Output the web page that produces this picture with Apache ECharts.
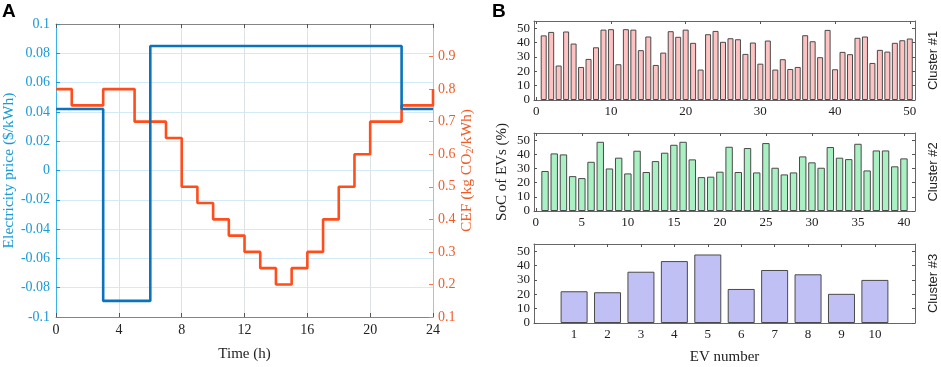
<!DOCTYPE html>
<html>
<head>
<meta charset="utf-8">
<script src="https://cdn.jsdelivr.net/npm/echarts@6/dist/echarts.min.js"></script>
<style>
  html, body { margin: 0; background: #fff; }
  #main { width: 941px; height: 367px; }
</style>
</head>
<body>
<div id="main"></div>
<script>
// panel A: stairs, each value holds until the next breakpoint
const priceHours = [0, 3, 6, 22, 24]
const priceValues = [0.042, -0.089, 0.085, 0.042, 0.042]
const cefHours = [0, 1, 3, 5, 7, 8, 9, 10, 11, 12, 13, 14, 15, 16, 17, 18, 19, 20, 22, 24]
const cefValues = [0.8, 0.75, 0.8, 0.7, 0.65, 0.5, 0.45, 0.4, 0.35, 0.3, 0.25, 0.2, 0.25, 0.3, 0.4, 0.5, 0.6, 0.7, 0.75, 0.8]

// panel B: SoC of each EV per cluster (%)
const cluster1 = [45, 47.4, 24, 47.7, 39.3, 23, 28.6, 36.7, 49, 49.3,
  24.9, 49.3, 49, 34.7, 44.2, 24.4, 33, 47.9, 44, 49,
  39.8, 21.2, 45.8, 48.1, 40.5, 43, 42.3, 32.1, 40, 25.3,
  41.4, 21.2, 28.4, 21.6, 23, 45.1, 40.9, 29.8, 48.8, 21.4,
  33.5, 31.9, 43.3, 44.2, 25.8, 34.9, 33.7, 39.8, 41.6, 42.8]
const cluster2 = [28.2, 40.6, 39.9, 24.6, 23.2, 34.7, 48.8, 30, 37.6, 26.5,
  42.5, 27.5, 35.2, 41.1, 46.7, 48.8, 36.4, 23.9, 24.2, 27.7,
  45.3, 27.5, 44.4, 27.2, 47.9, 30.5, 25.8, 27.2, 38.5, 34.3,
  30.5, 45.1, 37.6, 36.6, 47.4, 28.6, 42.7, 42.7, 31.5, 37.1]
const cluster3 = [22.1, 21.4, 35.7, 43.1, 47.7, 23.7, 36.9, 33.9, 20.3, 30]

const ticks1 = [0, 10, 20, 30, 40, 50]
const ticks2 = [0, 5, 10, 15, 20, 25, 30, 35, 40]
const ticks3 = [1, 2, 3, 4, 5, 6, 7, 8, 9, 10]
const socTicks = [0, 10, 20, 30, 40, 50]

const serif = 'Liberation Serif'
const sans = 'Liberation Sans'
const blue = '#0a73bb'
const orange = '#ff4d1c'

const chart = echarts.init(document.getElementById('main'))

const panels = [
  { data: cluster1, ticks: ticks1, min: -0.3, max: 50.7, top: 21, height: 79, color: '#ffc2c2', barWidth: 6, name: 'Cluster #1' },
  { data: cluster2, ticks: ticks2, min: -0.2, max: 41.2, top: 133, height: 78, color: '#a9f0c3', barWidth: 7.4, name: 'Cluster #2' },
  { data: cluster3, ticks: ticks3, min: -0.2, max: 11.2, top: 244, height: 79, color: '#c0c0f5', barWidth: 27, name: 'Cluster #3' }
]

const grids = [{ left: 56, top: 24, width: 377, height: 301 }]
const xAxes = [
  {
    type: 'value', gridIndex: 0, min: 0, max: 24, interval: 4,
    name: 'Time (h)', nameLocation: 'middle', nameGap: 30,
    nameTextStyle: { fontFamily: serif, fontSize: 15, color: '#222' },
    axisLine: { onZero: false, lineStyle: { color: '#858585' } },
    axisTick: { inside: true, length: 4, lineStyle: { color: '#555' } },
    axisLabel: { fontFamily: serif, fontSize: 14, color: '#222', margin: 6 },
    splitLine: { show: true, lineStyle: { color: '#dde2e7' } }
  },
  {
    type: 'value', gridIndex: 0, position: 'top', min: 0, max: 24, interval: 4,
    axisLine: { onZero: false, lineStyle: { color: '#858585' } },
    axisTick: { inside: true, length: 4, lineStyle: { color: '#555' } },
    axisLabel: { show: false }, splitLine: { show: false }
  }
]
const yAxes = [
  {
    type: 'value', gridIndex: 0, min: -0.1, max: 0.1, interval: 0.02,
    name: 'Electricity price ($/kWh)', nameLocation: 'middle', nameGap: 39,
    nameTextStyle: { fontFamily: serif, fontSize: 15.5, color: '#1a9ad6' },
    axisLine: { show: true, onZero: false, lineStyle: { color: '#3cb2e6' } },
    axisTick: { show: true, inside: true, length: 4, lineStyle: { color: '#1a9ad6' } },
    axisLabel: { fontFamily: serif, fontSize: 14, color: '#1a9ad6', margin: 6,
      formatter: v => String(+v.toFixed(2)) },
    splitLine: { show: true, lineStyle: { color: '#d3ebf6' } }
  },
  {
    type: 'value', gridIndex: 0, position: 'right', min: 0.1, max: 1.0, interval: 0.1,
    name: 'CEF (kg CO{s|2}/kWh)', nameLocation: 'middle', nameGap: 25, nameRotate: 90,
    nameTextStyle: { fontFamily: serif, fontSize: 15.5, color: '#f25a26',
      rich: { s: { fontFamily: serif, fontSize: 10, color: '#f25a26', verticalAlign: 'bottom', padding: [6, 0, 0, 0] } } },
    axisLine: { show: true, onZero: false, lineStyle: { color: '#ffa68a' } },
    axisTick: { show: true, inside: true, length: 4, lineStyle: { color: '#f7774a' } },
    axisLabel: { fontFamily: serif, fontSize: 14, color: '#f25a26', margin: 5, showMaxLabel: false,
      formatter: v => String(+v.toFixed(1)) },
    splitLine: { show: false }
  }
]
const series = [
  {
    type: 'line', xAxisIndex: 0, yAxisIndex: 1, step: 'end', symbol: 'none',
    data: cefHours.map((h, i) => [h, cefValues[i]]),
    lineStyle: { color: orange, width: 2.6 }, z: 3
  },
  {
    type: 'line', xAxisIndex: 0, yAxisIndex: 0, step: 'end', symbol: 'none',
    data: priceHours.map((h, i) => [h, priceValues[i]]),
    lineStyle: { color: blue, width: 2.6 }, z: 4
  }
]

panels.forEach((p, k) => {
  const gi = k + 1
  grids.push({ left: 534, top: p.top, width: 385, height: p.height })
  const tickStyle = { inside: true, length: 3, lineStyle: { color: '#555' } }
  xAxes.push({
    type: 'value', gridIndex: gi, min: p.min, max: p.max,
    name: k === 2 ? 'EV number' : '', nameLocation: 'middle', nameGap: 27,
    nameTextStyle: { fontFamily: serif, fontSize: 15, color: '#222' },
    axisLine: { onZero: false, lineStyle: { color: '#666' } },
    axisTick: { ...tickStyle, customValues: p.ticks },
    axisLabel: { fontFamily: serif, fontSize: 13, color: '#222', margin: 5, customValues: p.ticks },
    splitLine: { show: false }
  })
  xAxes.push({
    type: 'value', gridIndex: gi, position: 'top', min: p.min, max: p.max,
    axisLine: { onZero: false, lineStyle: { color: '#666' } },
    axisTick: { ...tickStyle, customValues: p.ticks },
    axisLabel: { show: false }, splitLine: { show: false }
  })
  yAxes.push({
    type: 'value', gridIndex: gi, min: 0, max: 55,
    name: k === 1 ? 'SoC of EVs (%)' : '', nameLocation: 'middle', nameGap: 24,
    nameTextStyle: { fontFamily: serif, fontSize: 15, color: '#222' },
    axisLine: { show: true, onZero: false, lineStyle: { color: '#666' } },
    axisTick: { show: true, ...tickStyle, customValues: socTicks },
    axisLabel: { fontFamily: serif, fontSize: 13, color: '#222', margin: 4, customValues: socTicks },
    splitLine: { show: false }
  })
  yAxes.push({
    type: 'value', gridIndex: gi, position: 'right', min: 0, max: 55,
    name: p.name, nameLocation: 'middle', nameGap: 12, nameRotate: 90,
    nameTextStyle: { fontFamily: sans, fontSize: 13, color: '#222' },
    axisLine: { show: true, onZero: false, lineStyle: { color: '#666' } },
    axisTick: { show: true, ...tickStyle, customValues: socTicks },
    axisLabel: { show: false }, splitLine: { show: false }
  })
  series.push({
    type: 'bar', xAxisIndex: 2 + k * 2, yAxisIndex: 2 + k * 2,
    barWidth: p.barWidth,
    data: p.data.map((v, i) => [i + 1, v]),
    itemStyle: { color: p.color, borderColor: '#4a4a4a', borderWidth: 1 }
  })
})

chart.setOption({
  animation: false,
  backgroundColor: '#fff',
  grid: grids,
  xAxis: xAxes,
  yAxis: yAxes,
  series: series,
  graphic: [
    { type: 'text', left: 2, top: 2, style: { text: 'A', font: 'bold 19px "Liberation Sans"', fill: '#000' } },
    { type: 'text', left: 492, top: 2, style: { text: 'B', font: 'bold 19px "Liberation Sans"', fill: '#000' } }
  ]
})
</script>
</body>
</html>
